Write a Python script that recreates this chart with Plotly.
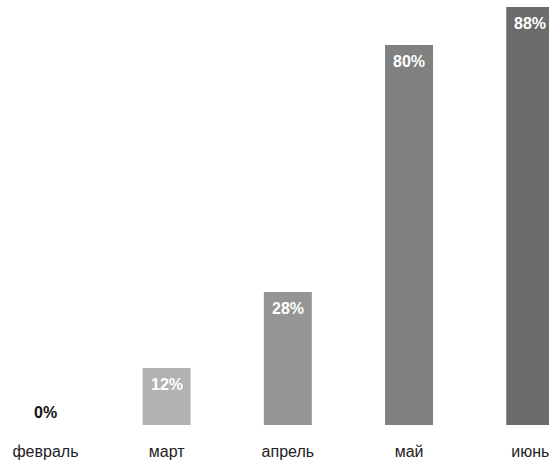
import plotly.graph_objects as go

categories = ["февраль", "март", "апрель", "май", "июнь"]
values = [0, 12, 28, 80, 88]
labels = ["0%", "12%", "28%", "80%", "88%"]
colors = ["#c8c8c8", "#b2b2b2", "#959595", "#808080", "#6b6b6b"]

FONT = "Liberation Sans, Arial, sans-serif"
xs = list(range(len(categories)))

fig = go.Figure(go.Bar(
    x=xs,
    y=values,
    marker=dict(color=colors, line=dict(width=0)),
    width=0.396,
    hoverinfo="skip",
))

for x, v, lab in zip(xs, values, labels):
    inside = v > 5
    fig.add_annotation(
        x=x, y=v, text=f"<b>{lab}</b>", showarrow=False,
        xanchor="center", yanchor="middle",
        yshift=-16 if inside else 13,
        font=dict(family=FONT, size=16, color="white" if inside else "#111111"),
    )

fig.update_layout(
    width=552, height=466,
    margin=dict(l=0, r=3, t=0, b=41),
    paper_bgcolor="white", plot_bgcolor="white",
    showlegend=False,
    xaxis=dict(range=[-0.375, 4.1547], tickmode="array",
               tickvals=xs, ticktext=categories,
               showgrid=False, zeroline=False, showline=False, ticks="",
               ticklabelstandoff=15,
               tickfont=dict(family=FONT, size=16, color="#222222")),
    yaxis=dict(range=[0, 89.5], visible=False, showgrid=False, zeroline=False),
)

fig.write_html("out.html", config={"displayModeBar": False},
               post_script="document.body.style.margin='0';")
